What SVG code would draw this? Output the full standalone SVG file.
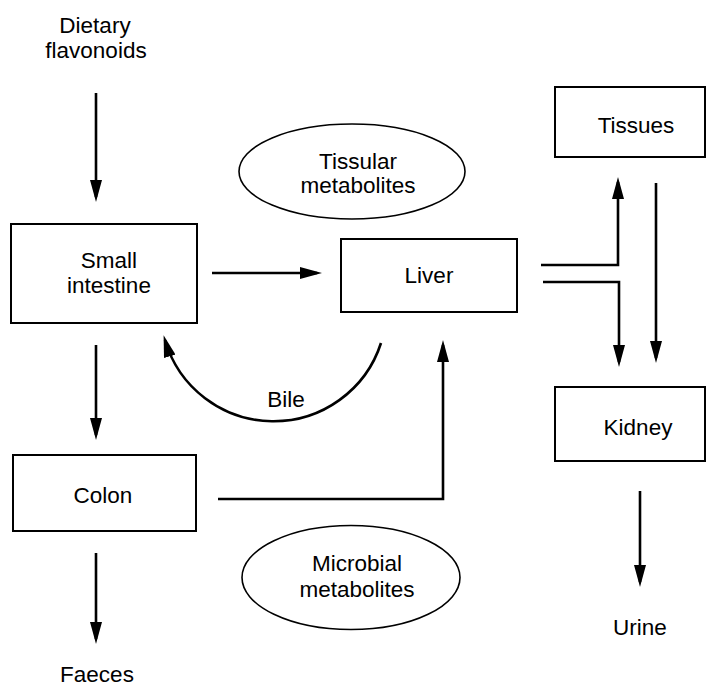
<svg xmlns="http://www.w3.org/2000/svg" width="706" height="686" viewBox="0 0 706 686">
<style>
text{font-family:"Liberation Sans",Arial,Helvetica,sans-serif;font-size:22.5px;fill:#000;text-anchor:middle}
.box{fill:#fff;stroke:#000;stroke-width:2}
.ell{fill:#fff;stroke:#000;stroke-width:1.6}
.c{fill:none;stroke:#000;stroke-width:2.6}
.a{marker-end:url(#ah)}
</style>
<defs>
<marker id="ah" markerUnits="userSpaceOnUse" markerWidth="24" markerHeight="12" refX="17" refY="6" orient="auto">
<path d="M0,0 L22,6 L0,12 z" fill="#000"/>
</marker>
</defs>
<rect width="706" height="686" fill="#fff"/>
<g id="dietary"><text x="95" y="33">Dietary</text><text x="96" y="58">flavonoids</text></g>
<g id="small-intestine"><rect class="box" x="11" y="224" width="186" height="99"/><text x="109" y="268">Small</text><text x="109" y="293">intestine</text></g>
<g id="liver"><rect class="box" x="341" y="239" width="176" height="73"/><text x="429" y="283">Liver</text></g>
<g id="tissular"><ellipse class="ell" cx="352" cy="171.5" rx="113" ry="47.5"/><text x="358" y="169">Tissular</text><text x="358" y="193">metabolites</text></g>
<g id="colon"><rect class="box" x="13" y="455" width="183" height="76"/><text x="103" y="503">Colon</text></g>
<g id="microbial"><ellipse class="ell" cx="351" cy="577.5" rx="109" ry="52"/><text x="357" y="571">Microbial</text><text x="357" y="597">metabolites</text></g>
<g id="faeces"><text x="97" y="682">Faeces</text></g>
<g id="tissues"><rect class="box" x="555" y="87" width="150" height="70"/><text x="636" y="133">Tissues</text></g>
<g id="kidney"><rect class="box" x="555" y="387" width="150" height="74"/><text x="638" y="435">Kidney</text></g>
<g id="urine"><text x="640" y="635">Urine</text></g>
<g id="bile-label"><text x="286" y="407">Bile</text></g>
<g id="connectors">
<line class="c a" x1="96" y1="93" x2="96" y2="197"/>
<line class="c a" x1="212" y1="273" x2="317" y2="273"/>
<path class="c a" d="M381,343 A113,113 0 0 1 165,340"/>
<line class="c a" x1="96" y1="345" x2="96" y2="435"/>
<path class="c a" d="M218,499 H443 V345"/>
<line class="c a" x1="96" y1="553" x2="96" y2="639"/>
<path class="c a" d="M541,265 H618 V182"/>
<path class="c a" d="M543,282 H619 V362"/>
<line class="c a" x1="656" y1="183" x2="656" y2="358"/>
<line class="c a" x1="640" y1="491" x2="640" y2="582"/>
</g>
</svg>
